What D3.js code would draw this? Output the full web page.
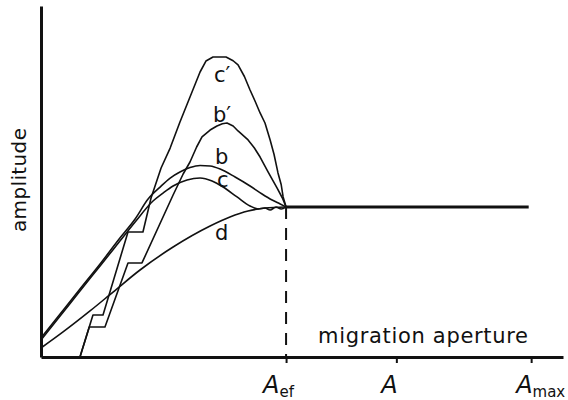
<!DOCTYPE html>
<html>
<head>
<meta charset="utf-8">
<script src="https://cdn.jsdelivr.net/npm/d3@7"></script>
<style>
  html, body { margin: 0; padding: 0; background: #fff; }
  svg { display: block; }
  text { font-family: "DejaVu Sans", "Liberation Sans", sans-serif; fill: #111; }
</style>
</head>
<body>
<svg id="chart" width="568" height="400"></svg>
<script>
// Relative migration aperture (A_ef = 1) and normalised amplitude (plateau = 1)
const curveNames = ["c′", "b′", "b", "c", "d"];

const aperC1 = [0.159, 0.212, 0.253, 0.355, 0.416, 0.449, 0.490, 0.527, 0.567, 0.608, 0.649, 0.673, 0.702, 0.755, 0.784, 0.804, 0.830, 0.853, 0.875, 0.894, 0.914, 0.935, 0.951, 0.967, 0.980, 0.988, 1];
const ampC1  = [0, 0.28, 0.28, 0.833, 0.833, 1.06, 1.260, 1.393, 1.567, 1.733, 1.9, 1.973, 2.0, 2.0, 1.975, 1.947, 1.870, 1.78, 1.700, 1.627, 1.560, 1.447, 1.350, 1.227, 1.150, 1.067, 1];

const aperB1 = [0.159, 0.197, 0.261, 0.355, 0.412, 0.539, 0.580, 0.608, 0.635, 0.657, 0.690, 0.718, 0.740, 0.759, 0.784, 0.804, 0.845, 0.870, 0.894, 0.927, 0.963, 0.985, 1];
const ampB1  = [0, 0.2, 0.2, 0.627, 0.627, 1.08, 1.220, 1.3, 1.400, 1.467, 1.513, 1.54, 1.555, 1.56, 1.540, 1.507, 1.447, 1.395, 1.333, 1.233, 1.127, 1.060, 1];

const aperB = [0, 0.078, 0.159, 0.241, 0.322, 0.384, 0.437, 0.486, 0.527, 0.567, 0.608, 0.649, 0.690, 0.731, 0.792, 0.853, 0.902, 0.943, 0.976, 1];
const ampB  = [0.127, 0.287, 0.453, 0.620, 0.793, 0.920, 1.053, 1.133, 1.193, 1.233, 1.263, 1.277, 1.273, 1.253, 1.200, 1.140, 1.087, 1.047, 1.020, 1];

const aperC = [0, 0.078, 0.159, 0.241, 0.322, 0.384, 0.457, 0.498, 0.539, 0.596, 0.649, 0.698, 0.743, 0.800, 0.853, 0.886, 0.914, 0.935, 0.959, 0.980, 1];
const ampC  = [0.113, 0.273, 0.440, 0.607, 0.773, 0.900, 1.040, 1.093, 1.140, 1.180, 1.193, 1.173, 1.133, 1.067, 1.007, 0.987, 0.993, 0.980, 1.0, 0.987, 1];

const aperD = [0, 0.090, 0.200, 0.294, 0.404, 0.539, 0.690, 0.771, 0.845, 0.914, 1];
const ampD  = [0.060, 0.167, 0.307, 0.433, 0.580, 0.733, 0.873, 0.933, 0.973, 0.993, 1];

// Constant amplitude beyond the effective aperture
const plateauAper = [1, 1.99];
const plateauAmp  = [1, 1];

// Curve label anchors (aperture, amplitude)
const labelAper = [0.706, 0.702, 0.710, 0.718, 0.710];
const labelAmp  = [1.833, 1.567, 1.287, 1.133, 0.780];

// Aperture axis ticks
const tickValues = [1, 1.45, 2];
const tickMain   = ["A", "A", "A"];
const tickSub    = ["ef", "", "max"];

const svg = d3.select("#chart");
const x = d3.scaleLinear().domain([0, 2.13]).range([41, 563]);
const y = d3.scaleLinear().domain([0, 2.34]).range([357, 6]);

const toPoints = (xs, ys) => xs.map((v, i) => [v, ys[i]]);

// staircase-type curves are drawn as polylines, the others smoothly
const series = [
  { pts: toPoints(aperC1, ampC1), curve: d3.curveLinear },
  { pts: toPoints(aperB1, ampB1), curve: d3.curveLinear },
  { pts: toPoints(aperB, ampB),   curve: d3.curveMonotoneX },
  { pts: toPoints(aperC, ampC),   curve: d3.curveMonotoneX },
  { pts: toPoints(aperD, ampD),   curve: d3.curveMonotoneX }
];

svg.append("g")
  .selectAll("path")
  .data(series)
  .join("path")
  .attr("d", s => d3.line().x(d => x(d[0])).y(d => y(d[1])).curve(s.curve)(s.pts))
  .attr("fill", "none")
  .attr("stroke", "#111")
  .attr("stroke-width", 1.6)
  .attr("stroke-linejoin", "round");

// dashed marker at the effective aperture
svg.append("line")
  .attr("x1", x(tickValues[0])).attr("x2", x(tickValues[0]))
  .attr("y1", y(1)).attr("y2", y(0))
  .attr("stroke", "#111")
  .attr("stroke-width", 2)
  .attr("stroke-dasharray", "12,9");

svg.append("path")
  .datum(toPoints(plateauAper, plateauAmp))
  .attr("d", d3.line().x(d => x(d[0])).y(d => y(d[1])))
  .attr("fill", "none")
  .attr("stroke", "#111")
  .attr("stroke-width", 3);

// curve labels
svg.append("g")
  .selectAll("text")
  .data(curveNames)
  .join("text")
  .attr("x", (d, i) => x(labelAper[i]))
  .attr("y", (d, i) => y(labelAmp[i]))
  .attr("font-family", "'Liberation Sans', Arial, sans-serif")
  .attr("font-size", 21)
  .text(d => d);

// axes
const xAxis = svg.append("g")
  .attr("transform", `translate(0,${y(0)})`)
  .call(d3.axisBottom(x).tickValues(tickValues).tickSizeInner(6).tickSizeOuter(0).tickFormat(""));
xAxis.select(".domain").attr("stroke", "#111").attr("stroke-width", 3);
xAxis.selectAll(".tick line").attr("stroke", "#111").attr("stroke-width", 2);
xAxis.selectAll(".tick text").remove();

const yAxis = svg.append("g")
  .attr("transform", `translate(${x(0)},0)`)
  .call(d3.axisLeft(y).tickValues([]).tickSizeOuter(0));
yAxis.select(".domain").attr("stroke", "#111").attr("stroke-width", 3);

// tick labels: italic A with an upright subscript
const tickLabels = svg.append("g").selectAll("text")
  .data(tickValues)
  .join("text")
  .attr("x", (d, i) => x(d) - 15 - (tickSub[i] === "ef" ? 8 : 0))
  .attr("y", 393);
tickLabels.append("tspan")
  .attr("font-style", "italic")
  .attr("font-size", 24)
  .text((d, i) => tickMain[i]);
tickLabels.append("tspan")
  .attr("font-size", 15)
  .attr("dy", 4)
  .text((d, i) => tickSub[i]);

// axis titles
svg.append("text")
  .attr("x", 318)
  .attr("y", 343)
  .attr("font-size", 21)
  .attr("textLength", 210)
  .attr("lengthAdjust", "spacing")
  .text("migration aperture");

svg.append("text")
  .attr("transform", "translate(26,180) rotate(-90)")
  .attr("text-anchor", "middle")
  .attr("font-size", 20)
  .attr("textLength", 104)
  .attr("lengthAdjust", "spacing")
  .text("amplitude");
</script>
</body>
</html>
